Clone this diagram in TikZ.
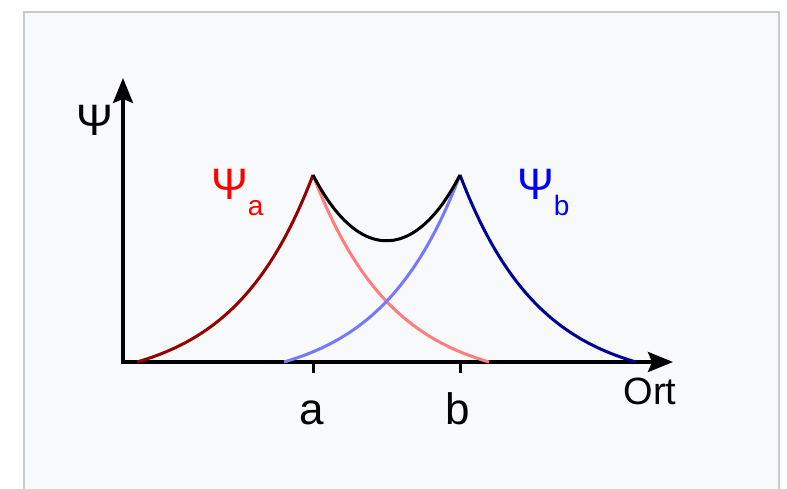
\documentclass[tikz,border=0pt]{standalone}
\usepackage{fontspec}
\setmainfont{Liberation Sans}
\usepackage{tikz}
\usetikzlibrary{arrows.meta, positioning}
\definecolor{panelgray}{RGB}{248, 249, 250}
\definecolor{framegray}{RGB}{200, 204, 209}
\definecolor{psiadark}{RGB}{150, 0, 0}
\definecolor{psialight}{RGB}{255, 125, 125}
\definecolor{psibdark}{RGB}{0, 0, 150}
\definecolor{psiblight}{RGB}{120, 120, 255}

\begin{document}
\begin{tikzpicture}[
  x=1pt, y=1pt,
  axis/.style={line width=3.5pt, -{Stealth[length=25pt, width=20pt, inset=4pt]}},
  curve/.style={line width=3pt, line join=round},
  lbl/.style={inner sep=0pt, font=\fontsize{44}{44}\selectfont},
  declare function={
    psia(\x)=187*(exp(-2.2*abs(\x-313)/176)-0.1108)/0.8892;
    psib(\x)=187*(exp(-2.2*abs(\x-460)/176)-0.1108)/0.8892;
  }
]
  % Frame
  \useasboundingbox (0, 0) rectangle (787, 489);
  \fill[white] (0, 0) rectangle (787, 489);
  \draw[fill=panelgray, draw=framegray, line width=2pt] (24, -10) rectangle (779, 477);

  % Axes
  \coordinate (origin) at (123, 127);
  \coordinate (ytip) at (123, 411);
  \coordinate (xtip) at (673, 127);
  \draw[axis] (origin) -- (ytip);
  \draw[axis] ([xshift=-1.75pt]origin) -- (xtip);
  \node[lbl, anchor=base west] (psilbl) at (76, 353) {Ψ};
  \node[lbl, font=\fontsize{38}{38}\selectfont, anchor=base] (ortlbl) at (650, 84) {Ort};

  % Ticks
  \coordinate (a) at (313, 127);
  \coordinate (b) at (460, 127);
  \draw[line width=3pt] (a) -- ++(0, -11);
  \draw[line width=3pt] (b) -- ++(0, -11);
  \node[lbl, anchor=base] (alabel) at (312, 64) {a};
  \node[lbl, anchor=base] (blabel) at (458, 64) {b};

  % Curves
  \draw[curve, psialight] plot[domain=313:489, samples=80] (\x, {127+psia(\x)});
  \draw[curve, psiblight] plot[domain=284:460, samples=80] (\x, {127+psib(\x)});
  \draw[curve, psiadark] plot[domain=137:313, samples=80] (\x, {127+psia(\x)});
  \draw[curve, psibdark] plot[domain=460:636, samples=80] (\x, {127+psib(\x)});
  \draw[curve, black] plot[domain=313:460, samples=80]
    (\x, {127+psia(\x)+psib(\x)-10.2*((\x-386.5)/73.5)^2});

  % Labels of the two states
  \node[lbl, red, anchor=base west] (psia) at (211, 289)
    {Ψ\raisebox{-0.35em}{\fontsize{28}{28}\selectfont a}};
  \node[lbl, blue, anchor=base west] (psib) at (517, 289)
    {Ψ\raisebox{-0.35em}{\fontsize{28}{28}\selectfont b}};
\end{tikzpicture}
\end{document}
